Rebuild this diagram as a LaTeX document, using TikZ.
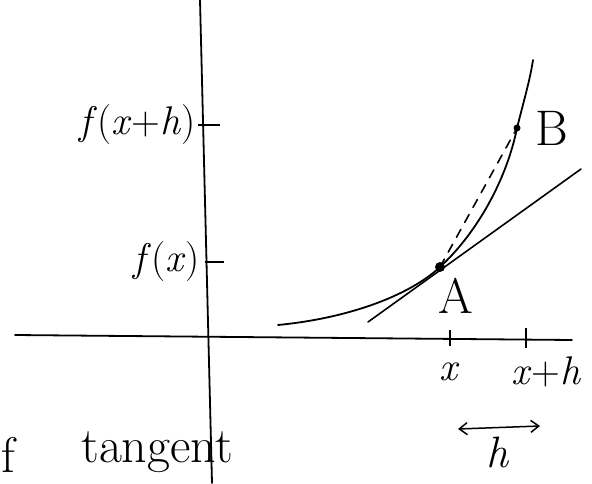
\documentclass[tikz,border=0pt]{standalone}
\usepackage{fontspec}
\usepackage{xcolor}
\usepackage{tikz}
\usetikzlibrary{arrows.meta}

\begin{document}
\begin{tikzpicture}[
  x=1pt,y=-1pt,
  pen/.style={line width=1.8pt,black,line cap=round},
  tick/.style={line width=1.6pt,black},
  lbl/.style={font=\fontsize{40}{46}\selectfont,inner sep=0pt},
  biglbl/.style={font=\fontsize{50}{56}\selectfont,inner sep=0pt},
  dot/.style={circle,fill=black,inner sep=0pt,minimum size=#1},
  dot/.default=8pt
]
\useasboundingbox (0,0) rectangle (592,483);
% axes
\coordinate (ytop) at (200,0);
\coordinate (ybot) at (212,483);
\coordinate (xl) at (15,335);
\coordinate (xr) at (572,340);
\draw[pen] (ytop) -- (ybot);
\draw[pen] (xl) -- (xr);
% ticks on the axes
\draw[tick] (198,125) -- (220,125);
\draw[tick] (205,262) -- (224,262);
\draw[tick] (450,330) -- (450,346);
\draw[tick] (526,328) -- (526,348);
% curve, A and B
\node[dot=10pt] (A) at (440,267) {};
\node[dot=7pt] (B) at (517,128) {};
\coordinate (cstart) at (278,325);
\coordinate (cend) at (533,60);
\draw[pen] (cstart) .. controls (350,318) and (410,295) .. (A.center)
  .. controls (478,232) and (507,178) .. (B.center)
  .. controls (524,100) and (530,80) .. (cend);
% tangent at A
\coordinate (tanL) at (368,322);
\coordinate (tanR) at (581,169);
\draw[pen,line width=1.6pt] (tanL) -- (tanR);
% secant AB
\draw[pen,line width=1.6pt,dash pattern=on 9pt off 8pt] (A.center) -- (B.center);
% labels
\node[lbl,anchor=east] (fxh) at (196,125) {\textit{f}(\textit{x}+\textit{h})};
\node[lbl,anchor=east] (fx) at (200,262) {\textit{f}(\textit{x})};
\node[biglbl] (lA) at (456,296) {A};
\node[biglbl] (lB) at (552,128) {B};
\node[lbl] (lx) at (450,372) {\textit{x}};
\node[lbl] (lxh) at (546,372) {\textit{x}+\textit{h}};
\node[font=\fontsize{44}{50}\selectfont,inner sep=0pt] (lh) at (498,452) {\textit{h}};
\coordinate (hl) at (458,429);
\coordinate (hr) at (540,426);
\draw[pen,line width=1.5pt,{Straight Barb[length=8pt,width=12pt]}-{Straight Barb[length=8pt,width=12pt]}] (hl) -- (hr);
\node[biglbl,anchor=west] (lf) at (1,455) {f};
\node[biglbl] (ltan) at (157,452) {tangent};
\end{tikzpicture}
\end{document}
